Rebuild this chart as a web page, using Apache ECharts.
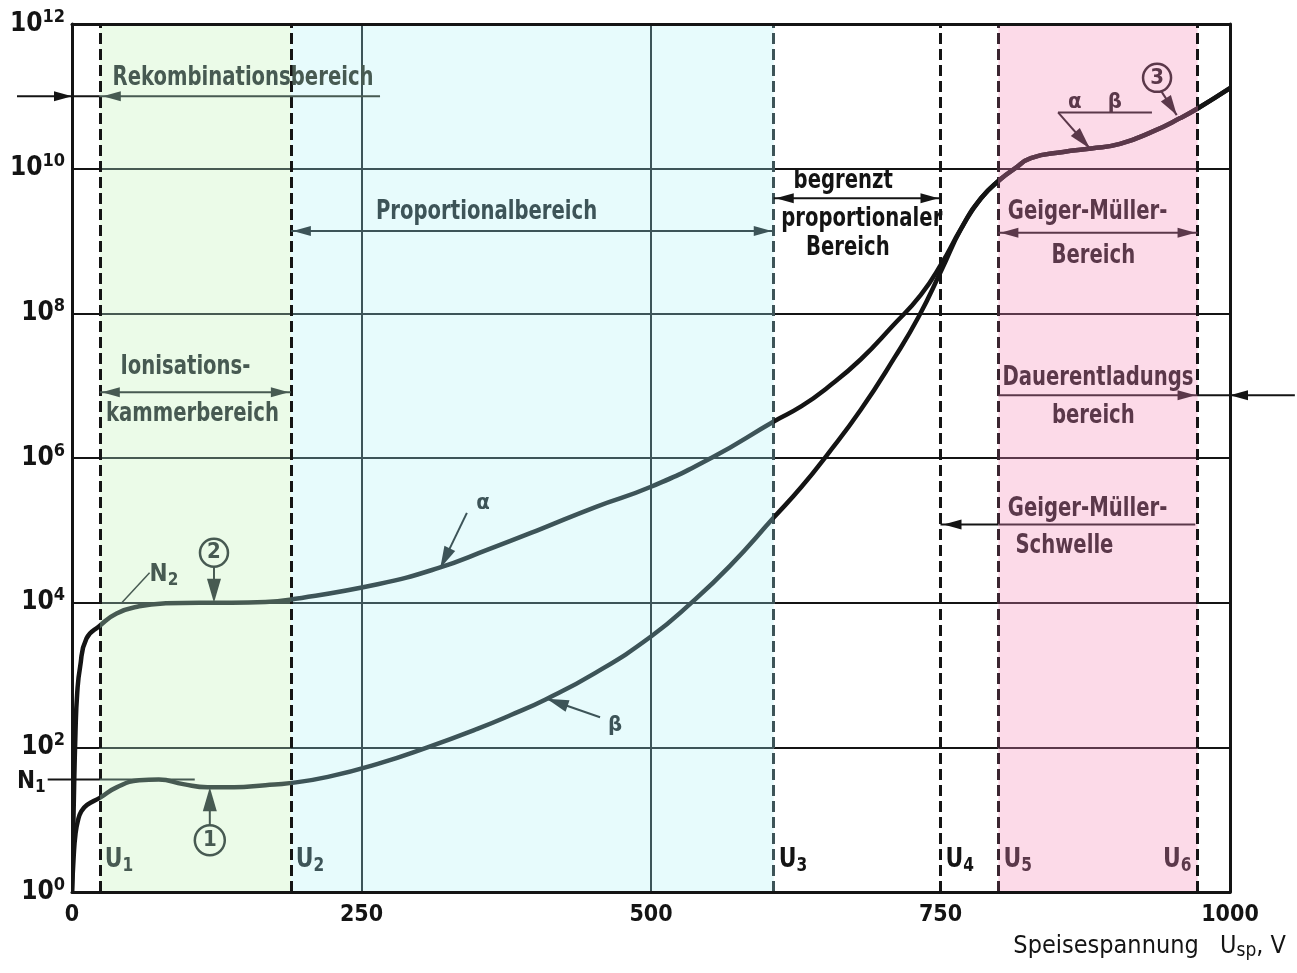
<!DOCTYPE html>
<html>
<head>
<meta charset="utf-8">
<script src="https://cdn.jsdelivr.net/npm/echarts@6/dist/echarts.min.js"></script>
<style>
html,body{margin:0;padding:0;background:#fff;}
#chart{width:1297px;height:973px;}
</style>
</head>
<body>
<div id="chart"></div>
<script>
// Pulse count N versus supply voltage U_sp (V) for alpha and beta radiation.
const alphaVoltage = [0, 1.5, 3, 4.5, 7, 12.5, 24, 38.5, 58, 81, 110, 138, 167, 188, 264, 316, 359, 402, 452, 500, 552, 606, 630, 652, 681, 709, 733, 751, 768, 785, 802, 814, 828, 856, 880, 905, 934, 957, 972, 1000];
const alphaCount = [1, 16, 160, 560, 1300, 3200, 4800, 7100, 8900, 9800, 1.0e4, 1.0e4, 1.02e4, 1.1e4, 1.8e4, 3.0e4, 5.4e4, 1.0e5, 2.1e5, 4.0e5, 1.0e6, 3.2e6, 5.2e6, 9.3e6, 2.3e7, 6.8e7, 1.8e8, 4.9e8, 1.5e9, 3.9e9, 7.2e9, 1.0e10, 1.4e10, 1.7e10, 1.9e10, 2.2e10, 3.3e10, 5.0e10, 6.8e10, 1.3e11];
const betaVoltage = [0, 1.5, 3, 5, 8, 13, 24, 38.5, 58, 75, 96, 117, 140, 167, 188, 221, 264, 307, 350, 379, 409, 452, 500, 535, 568, 606, 630, 652, 681, 710, 731, 751, 768, 785, 802, 814, 828, 856, 880, 905, 934, 957, 972, 1000];
const betaCount = [1, 3.2, 6.3, 9.5, 13, 16, 20, 28, 35, 36, 31, 28, 28, 30, 32, 39, 59, 100, 180, 280, 460, 1070, 3400, 1.0e4, 3.2e4, 1.5e5, 4.0e5, 1.1e6, 4.6e6, 2.4e7, 8.9e7, 4.0e8, 1.5e9, 3.9e9, 7.2e9, 1.0e10, 1.4e10, 1.7e10, 1.9e10, 2.2e10, 3.3e10, 5.0e10, 6.8e10, 1.3e11];

// Characteristic voltages U1 ... U6 (V)
const markVoltages = [24, 189, 606, 750, 800, 972];
const markIndices = ['1', '2', '3', '4', '5', '6'];
// Axis ticks
const xTickValues = [0, 250, 500, 750, 1000];
const yTickExponents = [0, 2, 4, 6, 8, 10, 12];
// Reference levels N1 (plateau of beta) and N2 (plateau of alpha)
const levelN1 = 36;
const levelN2 = 1.0e4;

const FONT = "'DejaVu Sans Condensed','Liberation Sans Narrow','DejaVu Sans',sans-serif";
const BLACK = '#141414';
const INK_GREEN = '#475a52';
const INK_CYAN = '#3d5458';
const INK_PINK = '#5b384a';
const FILL_GREEN = '#ebfbe8';
const FILL_CYAN = '#e7fbfc';
const FILL_PINK = '#fcdae8';

const [U1, U2, U3, U4, U5, U6] = markVoltages;

// Shaded regions between characteristic voltages
const shadedRegions = [
  { from: U1, to: U2, fill: FILL_GREEN },
  { from: U2, to: U3, fill: FILL_CYAN },
  { from: U5, to: U6, fill: FILL_PINK }
];
// Ink colour of lines lying on top of each region
const inkBands = [
  { from: 0, to: U1, color: BLACK },
  { from: U1, to: U2, color: INK_GREEN },
  { from: U2, to: U3, color: INK_CYAN },
  { from: U3, to: U5, color: BLACK },
  { from: U5, to: U6, color: INK_PINK },
  { from: U6, to: 1000, color: BLACK }
];
const inkAt = v => (inkBands.find(b => v >= b.from && v < b.to) || inkBands[inkBands.length - 1]).color;

// Horizontal grid lines, split per region so they take the region's ink
const gridLines = [];
yTickExponents.slice(1, -1).forEach(e => {
  inkBands.forEach(b => {
    gridLines.push([
      { coord: [b.from, Math.pow(10, e)], lineStyle: { color: b.color, width: 2, type: 'solid' } },
      { coord: [b.to, Math.pow(10, e)] }
    ]);
  });
});
xTickValues.slice(1, -1).forEach(v => {
  if (v === U4) return;
  gridLines.push({ xAxis: v, lineStyle: { color: inkAt(v), width: 2, type: 'solid' } });
});

const markLines = markVoltages.map(v => ({
  xAxis: v,
  lineStyle: { color: (v === U3) ? INK_CYAN : (v === U5 ? '#3a2530' : BLACK), width: 3, type: [11, 5] }
}));

const curvePieces = inkBands.map((b, i) => i === inkBands.length - 1
  ? { gte: b.from, lte: b.to + 1, color: b.color }
  : { gte: b.from, lt: b.to, color: b.color });

const option = {
  animation: false,
  backgroundColor: '#ffffff',
  textStyle: { fontFamily: FONT },
  grid: { left: 72, right: 67, top: 24, bottom: 81, containLabel: false },
  xAxis: [
    {
      type: 'value', min: 0, max: 1000, interval: 250, position: 'bottom', z: 10,
      axisLine: { show: true, onZero: false, lineStyle: { color: BLACK, width: 3 } },
      axisTick: { show: false }, splitLine: { show: false },
      axisLabel: { fontSize: 23, fontWeight: 'bold', color: BLACK, margin: 12, fontFamily: FONT,
        formatter: v => String(v) }
    },
    {
      type: 'value', min: 0, max: 1000, position: 'top', z: 10,
      axisLine: { show: true, onZero: false, lineStyle: { color: BLACK, width: 3 } },
      axisTick: { show: false }, splitLine: { show: false }, axisLabel: { show: false }
    }
  ],
  yAxis: [
    {
      type: 'log', logBase: 100, min: 1, max: 1e12, z: 10,
      axisLine: { show: true, onZero: false, lineStyle: { color: BLACK, width: 3 } },
      axisTick: { show: false }, splitLine: { show: false },
      axisLabel: {
        margin: 7, color: BLACK,
        formatter: v => '{b|10}{s|' + Math.round(Math.log10(v)) + '}',
        rich: {
          b: { fontSize: 26, fontWeight: 'bold', fontFamily: FONT, color: BLACK },
          s: { fontSize: 18, fontWeight: 'bold', fontFamily: FONT, color: BLACK, padding: [0, 0, 14, 0] }
        }
      }
    },
    {
      type: 'log', logBase: 100, min: 1, max: 1e12, position: 'right', z: 10,
      axisLine: { show: true, onZero: false, lineStyle: { color: BLACK, width: 3 } },
      axisTick: { show: false }, splitLine: { show: false }, axisLabel: { show: false }
    }
  ],
  visualMap: {
    show: false, type: 'piecewise', dimension: 0, seriesIndex: [3, 4],
    pieces: curvePieces
  },
  series: [
    {
      name: 'regions', type: 'line', data: [], silent: true, z: 1,
      markArea: {
        silent: true,
        data: shadedRegions.map(r => [{ xAxis: r.from, itemStyle: { color: r.fill } }, { xAxis: r.to }])
      }
    },
    {
      name: 'grid', type: 'line', data: [], silent: true, z: 2,
      markLine: { silent: true, symbol: ['none', 'none'], label: { show: false }, animation: false, data: gridLines }
    },
    {
      name: 'U', type: 'line', data: [], silent: true, z: 3,
      markLine: { silent: true, symbol: ['none', 'none'], label: { show: false }, animation: false, data: markLines }
    },
    {
      name: 'alpha', type: 'line', z: 5, smooth: 0.5, showSymbol: false, symbol: 'none',
      lineStyle: { width: 4.5 },
      data: alphaVoltage.map((v, i) => [v, alphaCount[i]])
    },
    {
      name: 'beta', type: 'line', z: 5, smooth: 0.5, showSymbol: false, symbol: 'none',
      lineStyle: { width: 4.5 },
      data: betaVoltage.map((v, i) => [v, betaCount[i]])
    }
  ]
};

const chart = echarts.init(document.getElementById('chart'));
chart.setOption(option);

// ---- annotations, anchored in data coordinates ----
const P = (v, n) => chart.convertToPixel({ gridIndex: 0 }, [v, n]);
const g = [];
const add = (p, dx, dy) => [p[0] + (dx || 0), p[1] + (dy || 0)];

function seg(a, b, color, w) {
  g.push({ type: 'line', z: 100, silent: true,
    shape: { x1: a[0], y1: a[1], x2: b[0], y2: b[1] },
    style: { stroke: color, lineWidth: w || 2 } });
}
function head(tip, from, color, len, half) {
  len = len || 18; half = half || 5;
  const dx = tip[0] - from[0], dy = tip[1] - from[1];
  const L = Math.hypot(dx, dy), ux = dx / L, uy = dy / L;
  const bx = tip[0] - ux * len, by = tip[1] - uy * len;
  g.push({ type: 'polygon', z: 101, silent: true,
    shape: { points: [tip, [bx - uy * half, by + ux * half], [bx + uy * half, by - ux * half]] },
    style: { fill: color } });
}
function txt(p, text, color, opt) {
  opt = opt || {};
  g.push({ type: 'text', z: 102, silent: true, x: p[0], y: p[1],
    scaleX: opt.scaleX || 1,
    style: {
      text: text, fill: color,
      font: (opt.weight || 'bold') + ' ' + (opt.size || 24) + 'px ' + FONT,
      align: opt.align || 'center', verticalAlign: opt.valign || 'middle',
      rich: opt.rich
    } });
}
// region captions: tall, narrow lettering
const cap = (p, text, color, align) => txt(p, text, color, { size: 26, scaleX: 0.84, align: align });
function circ(c, r, color, label) {
  g.push({ type: 'circle', z: 100, silent: true, shape: { cx: c[0], cy: c[1], r: r },
    style: { fill: 'rgba(0,0,0,0)', stroke: color, lineWidth: 2.5 } });
  txt(c, label, color, { size: 22 });
}
const subRich = (color, size, sub) => ({
  m: { fontSize: size, fontWeight: 'bold', fontFamily: FONT, fill: color, color: color },
  s: { fontSize: sub, fontWeight: 'bold', fontFamily: FONT, fill: color, color: color, padding: [12, 0, 0, 0] }
});

// Rekombinationsbereich
const yR = 1e11;
seg(P(-47.5, yR), P(U1, yR), BLACK, 2);
seg(P(U1, yR), P(266, yR), INK_GREEN, 2);
head(P(0, yR), P(-47.5, yR), BLACK);
head(add(P(U1, yR), 3), P(266, yR), INK_GREEN);
cap(add(P(35, yR), 0, -18), 'Rekombinationsbereich', INK_GREEN, 'left');

// Proportionalbereich
const yP = 1.38e9;
seg(P(U2, yP), P(U3, yP), INK_CYAN, 2);
head(add(P(U2, yP), 2), P(U3, yP), INK_CYAN);
head(add(P(U3, yP), -2), P(U2, yP), INK_CYAN);
cap(add(P(358, yP), 0, -19), 'Proportionalbereich', INK_CYAN);

// Ionisationskammerbereich
const yI = 8.1e6;
seg(P(U1, yI), P(U2, yI), INK_GREEN, 2);
head(add(P(U1, yI), 2), P(U2, yI), INK_GREEN);
head(add(P(U2, yI), -2), P(U1, yI), INK_GREEN);
cap(add(P(98, yI), 0, -25), 'Ionisations-', INK_GREEN);
cap(add(P(104, yI), 0, 22), 'kammerbereich', INK_GREEN);

// begrenzt proportionaler Bereich
const yB = 3.9e9;
seg(P(U3, yB), P(U4, yB), BLACK, 2);
head(add(P(U3, yB), 2), P(U4, yB), BLACK);
head(add(P(U4, yB), -2), P(U3, yB), BLACK);
cap(add(P(666, yB), 0, -17), 'begrenzt', BLACK);
cap(add(P(682, yB), 0, 21), 'proportionaler', BLACK);
cap(add(P(670, yB), 0, 50), 'Bereich', BLACK);

// Geiger-Müller-Bereich
const yG = 1.3e9;
seg(P(U5, yG), P(U6, yG), INK_PINK, 2);
head(add(P(U5, yG), 2), P(U6, yG), INK_PINK);
head(add(P(U6, yG), -2), P(U5, yG), INK_PINK);
cap(add(P(877, yG), 0, -21), 'Geiger-Müller-', INK_PINK);
cap(add(P(882, yG), 0, 23), 'Bereich', INK_PINK);

// Dauerentladungsbereich
const yD = 7.4e6;
seg(P(U5, yD), P(U6, yD), INK_PINK, 2);
seg(P(U6, yD), P(1056, yD), BLACK, 2);
head(add(P(U6, yD), -2), P(U5, yD), INK_PINK);
head(P(1000, yD), P(1056, yD), BLACK);
cap(add(P(886, yD), 0, -17), 'Dauerentladungs', INK_PINK);
cap(add(P(882, yD), 0, 21), 'bereich', INK_PINK);

// Geiger-Müller-Schwelle
const yS = 1.2e5;
seg(P(U4, yS), P(U5, yS), BLACK, 2);
seg(P(U5, yS), P(970, yS), INK_PINK, 2);
head(add(P(U4, yS), 3), P(U5, yS), BLACK);
cap(add(P(877, yS), 0, -15), 'Geiger-Müller-', INK_PINK);
cap(add(P(857, yS), 0, 22), 'Schwelle', INK_PINK);

// N1 level and label
const n1a = P(-21, levelN1);
seg(n1a, P(U1, levelN1), BLACK, 2);
seg(P(U1, levelN1), P(106, levelN1), INK_GREEN, 2);
txt(add(n1a, -2, 2), '{m|N}{s|1}', BLACK, { align: 'right', rich: subRich(BLACK, 24, 17) });

// N2 leader and label
seg(P(43, levelN2), P(67, 2.6e4), INK_GREEN, 1.5);
txt(add(P(67, 2.6e4), 0, 2), '{m|N}{s|2}', INK_GREEN, { align: 'left', rich: subRich(INK_GREEN, 24, 17) });

// Circled markers 1, 2, 3
const c2 = P(122.6, 4.9e4);
circ(c2, 14, INK_GREEN, '2');
const c2tip = P(122.6, levelN2);
seg(add(c2, 0, 14), add(c2tip, 0, -10), INK_GREEN, 2);
head(c2tip, add(c2tip, 0, -30), INK_GREEN, 24, 7);

const c1 = P(119, 5.2);
circ(c1, 15, INK_GREEN, '1');
const c1tip = P(119, 28);
seg(add(c1, 0, -15), add(c1tip, 0, 10), INK_GREEN, 2);
head(c1tip, add(c1tip, 0, 30), INK_GREEN, 24, 7);

const c3 = P(937, 1.8e11);
circ(c3, 14, INK_PINK, '3');
const c3tip = P(954, 5.5e10);
seg(add(c3, 4, 13), c3tip, INK_PINK, 2);
head(c3tip, add(c3, 4, 13), INK_PINK, 20, 6);

// alpha / beta pointers
const aTail = P(341, 1.74e5), aTip = P(318, 3.0e4);
seg(aTail, aTip, INK_CYAN, 2);
head(aTip, aTail, INK_CYAN, 22, 6);
txt(P(355, 2.4e5), 'α', INK_CYAN, { size: 22 });

const bTail = P(456, 260), bTip = P(410, 470);
seg(bTail, bTip, INK_CYAN, 2);
head(bTip, bTail, INK_CYAN, 22, 6);
txt(P(469, 200), 'β', INK_CYAN, { size: 22 });

const abL = P(851.5, 6.0e10), abR = P(932.6, 6.0e10), abTip = P(879, 1.9e10);
seg(abL, abR, INK_PINK, 2);
seg(abL, abTip, INK_PINK, 2);
head(abTip, abL, INK_PINK, 22, 6);
txt(P(866, 8.3e10), 'α', INK_PINK, { size: 22 });
txt(P(900.6, 8.3e10), 'β', INK_PINK, { size: 22 });

// U1 ... U6 labels
const uColor = [INK_GREEN, INK_CYAN, BLACK, BLACK, INK_PINK, INK_PINK];
markVoltages.forEach((v, i) => {
  const right = i === markVoltages.length - 1;
  const p = add(P(v, 2.75), right ? -6 : 5, 0);
  txt(p, '{m|U}{s|' + markIndices[i] + '}', uColor[i],
    { align: right ? 'right' : 'left', rich: subRich(uColor[i], 27, 19), scaleX: 0.9 });
});

// axis title
const corner = P(1000, 1);
txt(add(corner, 56, 54), '{m|Speisespannung   U}{s|sp}{m|, V}', BLACK, {
  align: 'right',
  rich: {
    m: { fontSize: 25, fontFamily: FONT, fill: BLACK, color: BLACK },
    s: { fontSize: 19, fontFamily: FONT, fill: BLACK, color: BLACK, padding: [11, 0, 0, 0] }
  }
});

chart.setOption({ graphic: { elements: g } });
</script>
</body>
</html>
